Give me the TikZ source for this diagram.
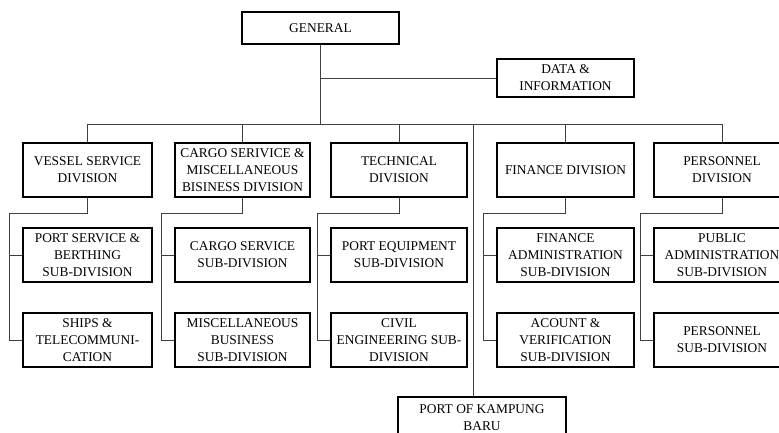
\documentclass[tikz,border=0pt]{standalone}
\usepackage{fontspec}
\setmainfont{Liberation Serif}
\usetikzlibrary{positioning, calc}
\tikzset{
  unitbox/.style={rectangle, draw=black, line width=1.5pt, fill=white,
                  align=center, inner sep=1pt,
                  font=\fontsize{13.4}{17}\selectfont},
  divbox/.style={unitbox, minimum height=54pt},
  link/.style={draw=black!75, line width=0.9pt},
}

\begin{document}
\begin{tikzpicture}[x=1pt, y=-1pt]

  % --- page frame ---
  \useasboundingbox (0,0) rectangle (779,433);
  \clip (0,0) rectangle (779,433);

  % --- top of the structure ---
  \node[unitbox, minimum width=157pt, minimum height=32pt] (general) at (320.5,28)
        {GENERAL};
  \node[unitbox, minimum width=137pt, minimum height=38pt] (data) at (565.5,78)
        {DATA \&\\INFORMATION};

  % --- divisions ---
  \node[divbox, minimum width=129pt] (vessel) at (87.5,170)
       {VESSEL SERVICE\\DIVISION};
  \node[divbox, minimum width=135pt] (cargo) at (242.5,170)
       {CARGO SERIVICE \&\\MISCELLANEOUS\\BISINESS DIVISION};
  \node[divbox, minimum width=136pt] (technical) at (399,170)
       {TECHNICAL\\DIVISION};
  \node[divbox, minimum width=137pt] (finance) at (565.5,170)
       {FINANCE DIVISION};
  \node[divbox, minimum width=136pt] (personnel) at (722,170)
       {PERSONNEL\\DIVISION};

  % --- sub-divisions, first row ---
  \node[divbox, minimum width=129pt] (portsvc) at (87.5,255)
       {PORT SERVICE \&\\BERTHING\\SUB-DIVISION};
  \node[divbox, minimum width=135pt] (cargosvc) at (242.5,255)
       {CARGO SERVICE\\SUB-DIVISION};
  \node[divbox, minimum width=136pt] (equip) at (399,255)
       {PORT EQUIPMENT\\SUB-DIVISION};
  \node[divbox, minimum width=137pt] (finadm) at (565.5,255)
       {FINANCE\\ADMINISTRATION\\SUB-DIVISION};
  \node[divbox, minimum width=136pt] (pubadm) at (722,255)
       {PUBLIC\\ADMINISTRATION\\SUB-DIVISION};

  % --- sub-divisions, second row ---
  \node[divbox, minimum width=129pt] (ships) at (87.5,340)
       {SHIPS \&\\TELECOMMUNI-\\CATION};
  \node[divbox, minimum width=135pt] (misc) at (242.5,340)
       {MISCELLANEOUS\\BUSINESS\\SUB-DIVISION};
  \node[divbox, minimum width=136pt] (civil) at (399,340)
       {CIVIL\\ENGINEERING SUB-\\DIVISION};
  \node[divbox, minimum width=137pt] (account) at (565.5,340)
       {ACOUNT \&\\VERIFICATION\\SUB-DIVISION};
  \node[divbox, minimum width=136pt] (persub) at (722,340)
       {PERSONNEL\\SUB-DIVISION};

  % --- branch office ---
  \node[unitbox, minimum width=168pt, minimum height=42pt] (kampung) at (482,418)
       {PORT OF KAMPUNG\\BARU};

  % --- main bus ---
  \coordinate (bus) at (320.5,124);
  \coordinate (kbus) at (473,124);
  \draw[link] (general.south) -- (general.south |- bus);
  \draw[link] (general.south |- data.west) -- (data.west);
  \draw[link] (vessel.north) -- (vessel.north |- bus) -- (personnel.north |- bus)
              -- (personnel.north);
  \draw[link] (cargo.north) -- (cargo.north |- bus);
  \draw[link] (technical.north) -- (technical.north |- bus);
  \draw[link] (finance.north) -- (finance.north |- bus);
  \draw[link] (kbus) -- (kbus |- kampung.north);

  % --- division to sub-division spines ---
  \draw[link] (vessel.south) -- ++(0,16) -| ([xshift=-13pt]portsvc.west) |- (ships.west);
  \draw[link] ([xshift=-13pt]portsvc.west) -- (portsvc.west);
  \draw[link] (cargo.south) -- ++(0,16) -| ([xshift=-13pt]cargosvc.west) |- (misc.west);
  \draw[link] ([xshift=-13pt]cargosvc.west) -- (cargosvc.west);
  \draw[link] (technical.south) -- ++(0,16) -| ([xshift=-13pt]equip.west) |- (civil.west);
  \draw[link] ([xshift=-13pt]equip.west) -- (equip.west);
  \draw[link] (finance.south) -- ++(0,16) -| ([xshift=-13pt]finadm.west) |- (account.west);
  \draw[link] ([xshift=-13pt]finadm.west) -- (finadm.west);
  \draw[link] (personnel.south) -- ++(0,16) -| ([xshift=-13pt]pubadm.west) |- (persub.west);
  \draw[link] ([xshift=-13pt]pubadm.west) -- (pubadm.west);

\end{tikzpicture}
\end{document}
